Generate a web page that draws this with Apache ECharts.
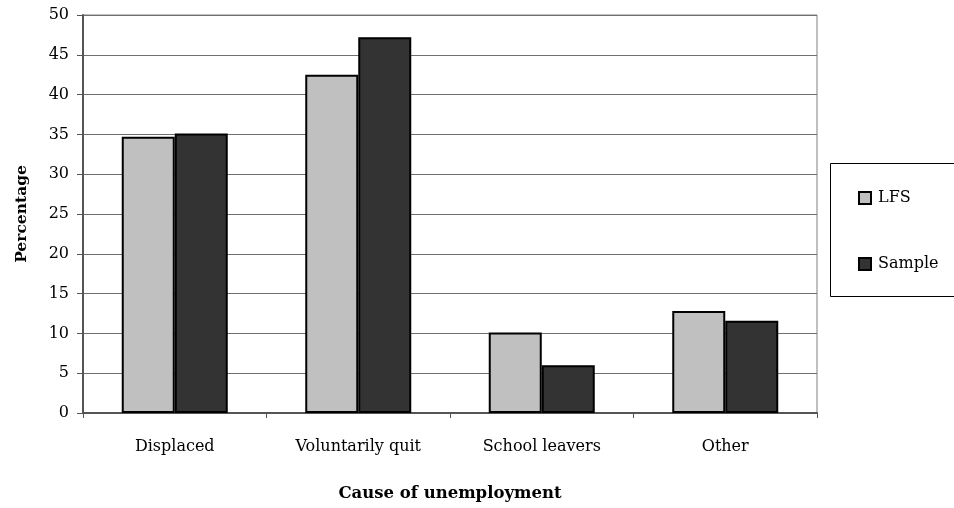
<!DOCTYPE html>
<html>
<head>
<meta charset="utf-8">
<script src="https://cdn.jsdelivr.net/npm/echarts@6/dist/echarts.min.js"></script>
<style>
  html, body { margin: 0; padding: 0; background: #fff; }
  #chart { width: 954px; height: 508px; }
</style>
</head>
<body>
<div id="chart"></div>
<script>
// Causes of unemployment: LFS vs sample shares (%)
const categories = ['Displaced', 'Voluntarily quit', 'School leavers', 'Other'];
const lfsValues = [34.7, 42.5, 10.1, 12.8];
const sampleValues = [35.1, 47.2, 6.0, 11.6];
const yTicks = [0, 5, 10, 15, 20, 25, 30, 35, 40, 45, 50];

const serif = 'DejaVu Serif';
const chart = echarts.init(document.getElementById('chart'), null, { renderer: 'canvas' });

chart.setOption({
  backgroundColor: '#ffffff',
  animation: false,
  grid: {
    left: 83, right: 137, top: 15, bottom: 95,
    show: true, borderColor: '#808080', borderWidth: 1, backgroundColor: 'transparent'
  },
  legend: {
    orient: 'vertical',
    left: 853, top: 185,
    padding: 5,
    itemWidth: 12, itemHeight: 12, itemGap: 50,
    icon: 'rect',
    textStyle: { fontFamily: serif, fontSize: 16, color: '#000', padding: [0, 0, 0, 2] },
    data: ['LFS', 'Sample']
  },
  graphic: [{
    type: 'rect',
    shape: { x: 830.5, y: 163.5, width: 140, height: 133 },
    style: { fill: 'none', stroke: '#000', lineWidth: 1 },
    z: -1
  }],
  xAxis: {
    type: 'category',
    data: categories,
    name: 'Cause of unemployment',
    nameLocation: 'middle',
    nameGap: 72,
    nameTextStyle: { fontFamily: serif, fontSize: 16.5, fontWeight: 'bold', color: '#000' },
    axisLine: { lineStyle: { color: '#555', width: 2 } },
    axisTick: { show: true, length: 5, lineStyle: { color: '#555', width: 1 } },
    axisLabel: { fontFamily: serif, fontSize: 16, color: '#000', margin: 26 },
    splitLine: { show: false }
  },
  yAxis: {
    type: 'value',
    min: 0, max: 50, interval: 5,
    name: 'Percentage',
    nameLocation: 'middle',
    nameGap: 53,
    nameRotate: 90,
    nameTextStyle: { fontFamily: serif, fontSize: 15.5, fontWeight: 'bold', color: '#000' },
    axisLine: { show: true, lineStyle: { color: '#555', width: 2 } },
    axisTick: { show: true, length: 6, lineStyle: { color: '#555', width: 1 } },
    axisLabel: {
      fontFamily: serif, fontSize: 16, color: '#000', margin: 14,
      formatter: v => (yTicks.indexOf(v) >= 0 ? String(v) : '')
    },
    splitLine: { show: true, lineStyle: { color: '#707070', width: 1 } }
  },
  series: [
    {
      name: 'LFS', type: 'bar', data: lfsValues,
      barWidth: 53, barGap: '0%',
      itemStyle: { color: '#c0c0c0', borderColor: '#000', borderWidth: 2 }
    },
    {
      name: 'Sample', type: 'bar', data: sampleValues,
      barWidth: 53,
      itemStyle: { color: '#333333', borderColor: '#000', borderWidth: 2 }
    }
  ]
});
</script>
</body>
</html>
